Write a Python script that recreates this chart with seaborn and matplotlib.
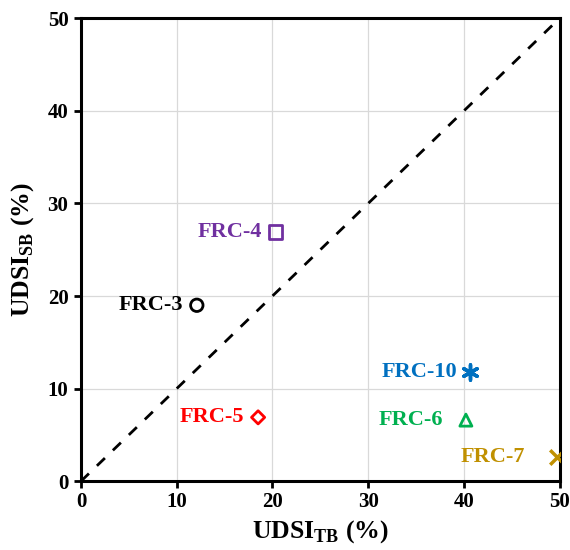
import matplotlib
matplotlib.use("Agg")
import matplotlib.pyplot as plt
import seaborn as sns
import pandas as pd

labels = ["FRC-3", "FRC-4", "FRC-5", "FRC-10", "FRC-6", "FRC-7"]
udsi_tb = [12.1, 20.3, 18.5, 40.6, 40.2, 49.7]
udsi_sb = [19.0, 26.9, 6.9, 11.8, 6.6, 2.6]
colors = ["#000000", "#7030A0", "#FF0000", "#0070C0", "#00B050", "#C09000"]
markers = ["o", "s", "D", "asterisk", "^", "x"]
ticks = [0, 10, 20, 30, 40, 50]

sns.set_style("white")
plt.rcParams['font.family'] = ['Liberation Serif', 'DejaVu Serif']
plt.rcParams['mathtext.fontset'] = 'custom'
plt.rcParams['mathtext.rm'] = 'Liberation Serif'
plt.rcParams['mathtext.bf'] = 'Liberation Serif:bold'
plt.rcParams['text.color'] = 'black'
plt.rcParams['axes.labelcolor'] = 'black'
plt.rcParams['xtick.color'] = 'black'
plt.rcParams['ytick.color'] = 'black'

df = pd.DataFrame({"tb": udsi_tb, "sb": udsi_sb, "label": labels})

fig = plt.figure(figsize=(5.7, 5.5), dpi=100)
ax = fig.add_axes([0.142, 0.125, 0.840, 0.842])

ax.plot([0, 50], [0, 50], ls=(0, (4, 4)), color="black", lw=2, zorder=2)

sizes = {"o": 80, "s": 95, "D": 45, "^": 75, "x": 110}
for i, row in df.iterrows():
    m = markers[i]
    if m == "x":
        sns.scatterplot(x=[row.tb], y=[row.sb], marker="x", color=colors[i], s=sizes[m],
                        linewidth=2.5, ax=ax, zorder=3)
    elif m == "asterisk":
        sns.scatterplot(x=[row.tb], y=[row.sb], marker=(6, 2, 0), color=colors[i], s=120,
                        linewidth=2.5, edgecolor=colors[i], ax=ax, zorder=3)
    else:
        sns.scatterplot(x=[row.tb], y=[row.sb], marker=m, facecolor="none", edgecolor=colors[i],
                        s=sizes[m], linewidth=2, ax=ax, zorder=3)

offsets = {"FRC-3": -1.4, "FRC-4": -1.4, "FRC-5": -1.5, "FRC-10": -1.3, "FRC-6": -2.4, "FRC-7": -3.3}
for i, lab in enumerate(labels):
    ax.text(udsi_tb[i] + offsets[lab], udsi_sb[i], lab, color=colors[i], fontsize=16,
            fontweight="bold", ha="right", va="center")

ax.set_xlim(0, 50)
ax.set_ylim(0, 50)
ax.set_xticks(ticks)
ax.set_yticks(ticks)
ax.set_xticklabels([str(t) for t in ticks], fontsize=15, fontweight="bold")
ax.set_yticklabels([str(t) for t in ticks], fontsize=15, fontweight="bold")
ax.grid(True, color="#d9d9d9", lw=0.9)
ax.set_axisbelow(True)
for sp in ax.spines.values():
    sp.set_color("black")
    sp.set_linewidth(2.2)
ax.tick_params(axis="both", direction="out", length=5, width=2, color="black", pad=4)
ax.tick_params(axis="x", bottom=True, pad=3)
ax.tick_params(axis="y", left=True)

ax.set_xlabel(r"UDSI$_{\mathbf{TB}}$ (%)", fontsize=18.5, fontweight="bold", labelpad=4)
ax.set_ylabel(r"UDSI$_{\mathbf{SB}}$ (%)", fontsize=18.5, fontweight="bold", labelpad=8)

fig.savefig("out.png", dpi=100)
